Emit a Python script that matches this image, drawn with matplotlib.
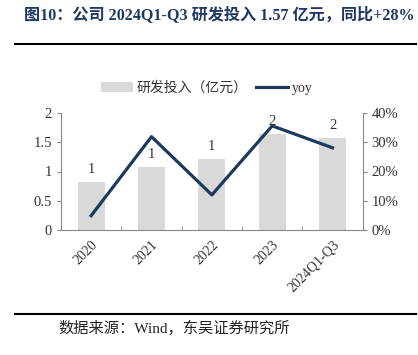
import matplotlib
matplotlib.use("Agg")
import matplotlib.pyplot as plt
import numpy as np
from matplotlib.ticker import FuncFormatter

plt.rcParams["font.family"] = ["Liberation Serif", "Noto Sans CJK SC"]

# ── Data ──────────────────────────────────────────────────────────────────────
categories = ["2020", "2021", "2022", "2023", "2024Q1-Q3"]
rd_spend = [0.82, 1.08, 1.21, 1.64, 1.57]          # 亿元
yoy = [4.9, 31.9, 12.0, 35.6, 28.1]                 # %
bar_labels = ["1", "1", "1", "2", "2"]

title = "图10：公司 2024Q1-Q3 研发投入 1.57 亿元，同比+28%"
source = "数据来源：Wind，东吴证券研究所"

BAR_C = "#D9D9D9"
LINE_C = "#1B3A5C"
TXT_C = "#333333"
SPINE_C = "#888888"

fig = plt.figure(figsize=(4.18, 3.55), dpi=100)
W, H = 418, 355

ax = fig.add_axes([61 / W, 1 - 230 / H, (362.7 - 61) / W, (230 - 113) / H])
x = np.arange(len(categories))
bars = ax.bar(x, rd_spend, width=0.45, color=BAR_C, label="研发投入（亿元）", zorder=1)
for xi, v, lab in zip(x, rd_spend, bar_labels):
    ax.text(xi, v + 0.1, lab, ha="center", va="bottom", fontsize=10.5, color=TXT_C)

ax.set_xlim(-0.5, len(categories) - 0.5)
ax.set_ylim(0, 2)
ax.set_yticks([0, 0.5, 1, 1.5, 2])
ax.yaxis.set_major_formatter(FuncFormatter(lambda v, p: f"{v:g}"))
ax.set_xticks(x)
ax.set_xticklabels(categories, rotation=45, ha="right", rotation_mode="anchor", fontsize=10, color=TXT_C)
ax.set_xticks(np.arange(0.5, len(categories) - 0.5, 1), minor=True)
ax.tick_params(axis="x", which="major", length=0, pad=6)
ax.tick_params(axis="x", which="minor", length=3, direction="in", color=SPINE_C)
ax.tick_params(axis="y", labelsize=10.5, labelcolor=TXT_C, length=3, color=SPINE_C)
for s in ["left", "bottom"]:
    ax.spines[s].set_color(SPINE_C)
ax.spines["top"].set_visible(False)
ax.spines["right"].set_visible(False)

ax2 = ax.twinx()
line, = ax2.plot(x, yoy, color=LINE_C, linewidth=2.3, label="yoy", zorder=3)
ax2.set_ylim(0, 40)
ax2.set_yticks([0, 10, 20, 30, 40])
ax2.yaxis.set_major_formatter(FuncFormatter(lambda v, p: f"{v:.0f}%"))
ax2.tick_params(axis="y", labelsize=10.5, labelcolor=TXT_C, length=3, color=SPINE_C)
ax2.spines["right"].set_color(SPINE_C)
for s in ["top", "left", "bottom"]:
    ax2.spines[s].set_visible(False)

fig.legend([bars, line], ["研发投入（亿元）", "yoy"], loc="center",
           bbox_to_anchor=(207 / W, 1 - 88 / H), ncol=2, frameon=False,
           fontsize=10, handlelength=2.3, handletextpad=0.3, columnspacing=0.6,
           labelcolor=TXT_C)

fig.text(24 / W, 1 - 15 / H, title, fontsize=11.6, fontweight="bold", color="#1F3864",
         ha="left", va="center")
fig.add_artist(plt.Line2D([15 / W, 416 / W], [1 - 44 / H, 1 - 44 / H], color="black", linewidth=1.5))
fig.add_artist(plt.Line2D([15 / W, 416 / W], [1 - 314 / H, 1 - 314 / H], color="black", linewidth=1.5))
fig.text(58 / W, 1 - 328 / H, source, fontsize=11, color="#222222", ha="left", va="center")

fig.savefig("out.png", dpi=100)
